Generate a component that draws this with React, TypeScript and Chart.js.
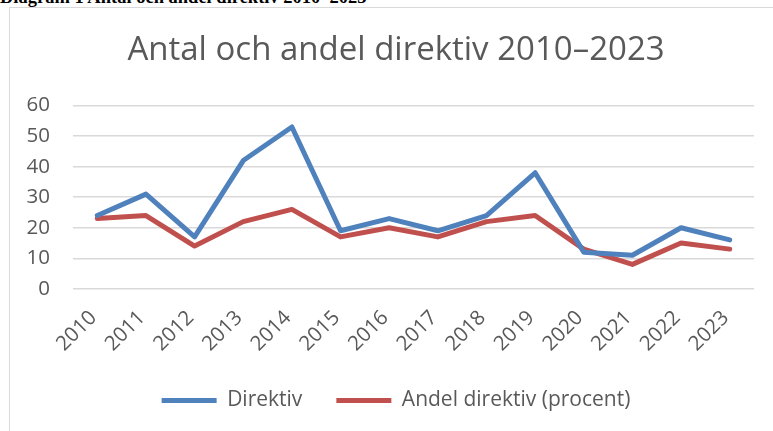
import React, { useEffect, useRef } from "react";
import { Chart, registerables } from "chart.js";

Chart.register(...registerables);

const caption = "Diagram 1 Antal och andel direktiv 2010–2023";
const chartTitle = "Antal och andel direktiv 2010–2023";
const years = ["2010", "2011", "2012", "2013", "2014", "2015", "2016", "2017", "2018", "2019", "2020", "2021", "2022", "2023"];
const direktiv = [24, 31, 17, 42, 53, 19, 23, 19, 24, 38, 12, 11, 20, 16];
const andel = [23, 24, 14, 22, 26, 17, 20, 17, 22, 24, 13, 8, 15, 13];
const seriesNames = ["Direktiv", "Andel direktiv (procent)"];
const yMin = 0;
const yMax = 60;
const yStep = 10;

const FONT = "'Open Sans', 'Noto Sans', sans-serif";
const TEXT = "#595959";

export default function App() {
  const ref = useRef<HTMLCanvasElement | null>(null);

  useEffect(() => {
    if (!ref.current) return;
    const chart = new Chart(ref.current, {
      type: "line",
      data: {
        labels: years,
        datasets: [
          {
            label: seriesNames[0],
            data: direktiv,
            borderColor: "#4F81BD",
            backgroundColor: "#4F81BD",
            borderWidth: 5,
            pointRadius: 0,
            tension: 0,
            borderCapStyle: "round",
            borderJoinStyle: "round",
          },
          {
            label: seriesNames[1],
            data: andel,
            borderColor: "#C0504D",
            backgroundColor: "#C0504D",
            borderWidth: 5,
            pointRadius: 0,
            tension: 0,
            borderCapStyle: "round",
            borderJoinStyle: "round",
          },
        ],
      },
      options: {
        animation: false,
        responsive: false,
        maintainAspectRatio: false,
        layout: { padding: 0 },
        plugins: {
          title: {
            display: true,
            text: chartTitle,
            color: TEXT,
            font: { family: FONT, size: 33, weight: "normal" },
            padding: { top: 23, bottom: 35 },
          },
          legend: {
            position: "bottom",
            labels: {
              color: TEXT,
              font: { family: FONT, size: 21 },
              boxWidth: 55,
              boxHeight: 5,
              padding: 34,
              generateLabels: (c: any) =>
                c.data.datasets.map((d: any, i: number) => ({
                  text: d.label,
                  fillStyle: d.borderColor,
                  strokeStyle: d.borderColor,
                  lineWidth: 0,
                  fontColor: TEXT,
                  datasetIndex: i,
                  hidden: false,
                })),
            },
          },
          tooltip: { enabled: false },
        },
        scales: {
          x: {
            offset: true,
            grid: { display: false, drawTicks: false, offset: true },
            border: { display: false },
            ticks: {
              color: TEXT,
              font: { family: FONT, size: 20.5 },
              minRotation: 45,
              maxRotation: 45,
              padding: 17,
              labelOffset: -4,
              autoSkip: false,
            },
            afterFit: (s: any) => {
              s.height = 67.2;
              s.paddingRight = 28;
            },
          },
          y: {
            min: yMin,
            max: yMax,
            grid: { color: "#d9d9d9", lineWidth: 1.5, drawTicks: false },
            border: { display: false },
            ticks: {
              stepSize: yStep,
              color: TEXT,
              font: { family: FONT, size: 20.5 },
              padding: 23,
            },
            afterFit: (s: any) => {
              s.width = 63;
            },
          },
        },
      },
    });
    return () => chart.destroy();
  }, []);

  return (
    <div style={{ position: "fixed", left: 0, top: 0, width: 773, height: 431, overflow: "hidden", background: "#fff" }}>
      <div
        style={{
          position: "absolute",
          left: 0,
          top: -13,
          font: "bold 18.5px 'Liberation Serif', 'Times New Roman', serif",
          color: "#000",
          whiteSpace: "nowrap",
        }}
      >
        {caption}
      </div>
      <div
        style={{
          position: "absolute",
          left: 9,
          top: 7,
          width: 800,
          height: 460,
          border: "1px solid #d9d9d9",
          background: "#fff",
        }}
      >
        <canvas ref={ref} width={772} height={413} style={{ position: "absolute", left: 0, top: 0, width: 772, height: 413 }} />
      </div>
    </div>
  );
}
